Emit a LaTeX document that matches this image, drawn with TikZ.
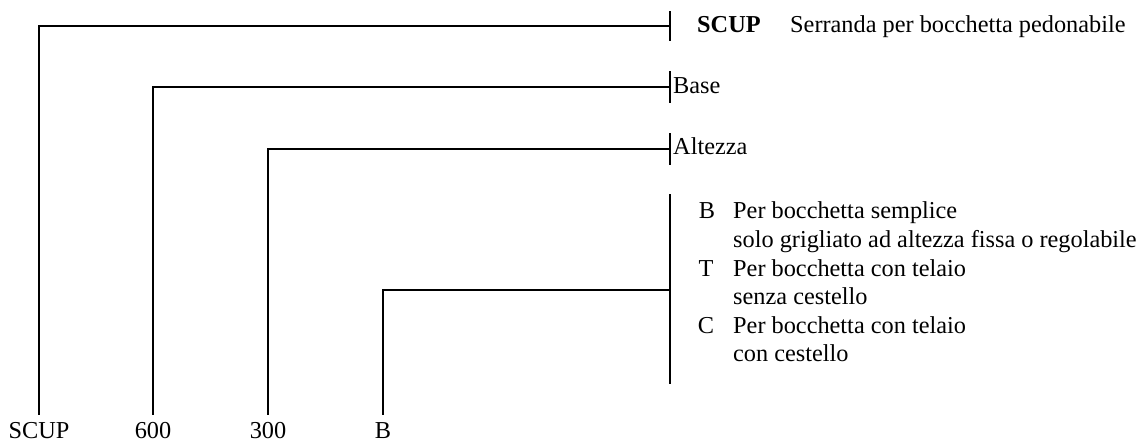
\documentclass[tikz,border=0pt]{standalone}
\usepackage{fontspec}
\setmainfont{Liberation Serif}
\begin{document}
\begin{tikzpicture}[x=1pt,y=-1pt,
  conn/.style={line width=1.6pt,line cap=rect},
  txt/.style={inner sep=0pt,anchor=base west,font=\fontsize{24.3}{28.6}\selectfont},
  lab/.style={inner sep=0pt,anchor=base,font=\fontsize{24.3}{28.6}\selectfont},
  code/.style={inner sep=0pt,anchor=base,font=\fontsize{24.3}{28.6}\selectfont}]
\useasboundingbox (0,0) rectangle (1140,443);
% bottom labels
\node[lab] (l1) at (39,438) {SCUP};
\node[lab] (l2) at (153,438) {600};
\node[lab] (l3) at (268,438) {300};
\node[lab] (l4) at (383,438) {B};
\coordinate (b1) at (39,414);
\coordinate (b2) at (153,414);
\coordinate (b3) at (268,414);
\coordinate (b4) at (383,414);
% ticks
\coordinate (t1a) at (670,12);  \coordinate (t1b) at (670,40);  \coordinate (t1) at (670,26);
\coordinate (t2a) at (670,72);  \coordinate (t2b) at (670,102); \coordinate (t2) at (670,87);
\coordinate (t3a) at (670,134); \coordinate (t3b) at (670,164); \coordinate (t3) at (670,149);
\coordinate (t4a) at (670,195); \coordinate (t4b) at (670,383); \coordinate (t4) at (670,290);
\draw[conn] (t1a) -- (t1b);
\draw[conn] (t2a) -- (t2b);
\draw[conn] (t3a) -- (t3b);
\draw[conn] (t4a) -- (t4b);
\draw[conn] (b1) |- (t1);
\draw[conn] (b2) |- (t2);
\draw[conn] (b3) |- (t3);
\draw[conn] (b4) |- (t4);
% texts
\node[txt,font=\fontsize{24.3}{28.6}\selectfont\bfseries] (scup) at (697,33) {SCUP};
\node[txt] (serr) at (790,33) {Serranda per bocchetta pedonabile};
\node[txt] (base) at (673,94) {Base};
\node[txt] (alt) at (673,155) {Altezza};
\node[code] (cB) at (707,219) {B};
\node[txt] (dB1) at (733,219) {Per bocchetta semplice};
\node[txt] (dB2) at (733,248) {solo grigliato ad altezza fissa o regolabile};
\node[code] (cT) at (706,277) {T};
\node[txt] (dT1) at (733,277) {Per bocchetta con telaio};
\node[txt] (dT2) at (733,305) {senza cestello};
\node[code] (cC) at (706,334) {C};
\node[txt] (dC1) at (733,334) {Per bocchetta con telaio};
\node[txt] (dC2) at (733,362) {con cestello};
\end{tikzpicture}
\end{document}
